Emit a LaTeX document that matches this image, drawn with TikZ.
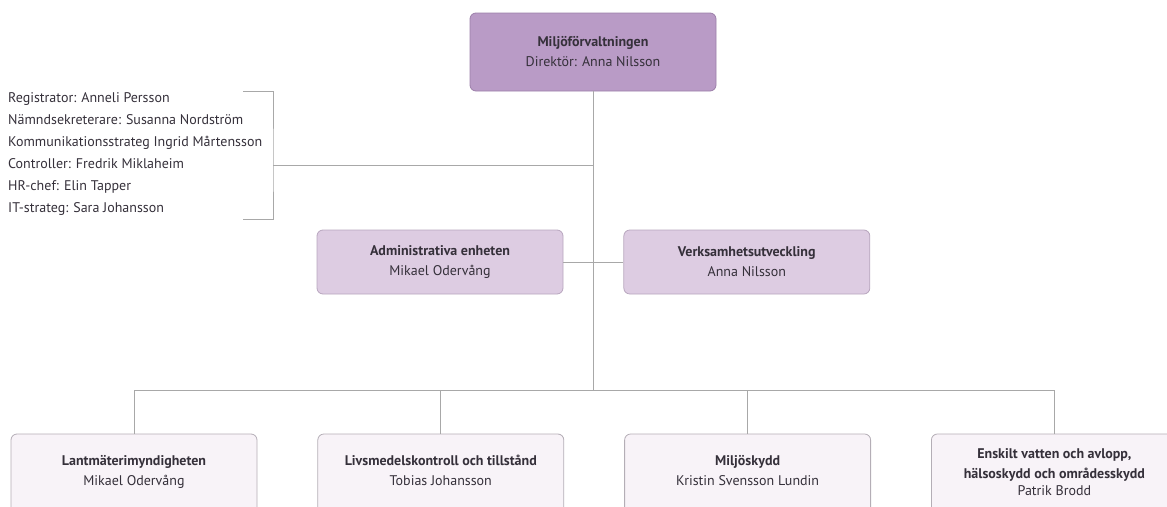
\documentclass[tikz,border=0pt]{standalone}
\usepackage{fontspec}
\setmainfont{PT Sans}
\usetikzlibrary{positioning}

\definecolor{topfill}{HTML}{B99BC6}
\definecolor{topdraw}{HTML}{9C7FA9}
\definecolor{midfill}{HTML}{DDCCE2}
\definecolor{middraw}{HTML}{B8A6BE}
\definecolor{subfill}{HTML}{F8F3F8}
\definecolor{subdraw}{HTML}{B4AEB6}
\definecolor{linegray}{HTML}{A8A8A8}
\definecolor{txt}{HTML}{35303A}

\begin{document}
\begin{tikzpicture}[x=1pt, y=-1pt, node distance=60pt, font=\fontsize{14}{20}\selectfont, text=txt]
    % Define styles
    \tikzstyle{unit} = [rectangle, rounded corners=6pt, minimum width=246pt, text centered, align=center, line width=0.8pt]
    \tikzstyle{topbox} = [unit, minimum height=78pt, draw=topdraw, fill=topfill]
    \tikzstyle{midbox} = [unit, minimum height=64pt, draw=middraw, fill=midfill]
    \tikzstyle{subbox} = [unit, minimum height=90pt, draw=subdraw, fill=subfill]
    \tikzstyle{link} = [draw=linegray, line width=0.8pt]

    \useasboundingbox (0,0) rectangle (1167,506);

    % Nodes
    \node [topbox] (forv) at (593,52) {\textbf{Miljöförvaltningen}\\Direktör: Anna Nilsson};
    \node [midbox] (admin) at (440,262) {\textbf{Administrativa enheten}\\Mikael Odervång};
    \node [midbox, right=of admin] (utv) {\textbf{Verksamhetsutveckling}\\Anna Nilsson};
    \node [subbox] (lant) at (134,479) {\textbf{Lantmäterimyndigheten}\\Mikael Odervång\\[-2pt]\mbox{}};
    \node [subbox, right=of lant] (livs) {\textbf{Livsmedelskontroll och tillstånd}\\Tobias Johansson\\[-2pt]\mbox{}};
    \node [subbox, right=of livs] (milj) {\textbf{Miljöskydd}\\Kristin Svensson Lundin\\[-2pt]\mbox{}};
    \node [subbox, right=of milj] (ensk) {\textbf{Enskilt vatten och avlopp,}\\\textbf{hälsoskydd och områdesskydd}\\[-3pt]Patrik Brodd\\[-6pt]\mbox{}};

    % Staff
    \node [anchor=north west, align=left, inner sep=0pt, font=\fontsize{14}{22}\selectfont] (staff) at (8,92)
        {Registrator: Anneli Persson\\
         Nämndsekreterare: Susanna Nordström\\
         Kommunikationsstrateg Ingrid Mårtensson\\
         Controller: Fredrik Miklaheim\\
         HR-chef: Elin Tapper\\
         IT-strateg: Sara Johansson};
    \coordinate (brtop) at (243,91);
    \coordinate (brmid) at (273,165);
    \coordinate (brbot) at (243,219);
    \coordinate (bar) at (593,390);

    % Lines
    \draw [link] (brtop) -| (brmid) |- (brbot);
    \draw [link] (brmid) -- (brmid -| forv.south);
    \draw [link] (forv.south) -- (bar);
    \draw [link] (admin.east) -- (utv.west);
    \draw [link] (lant.north |- bar) -- (ensk.north |- bar);
    \foreach \u in {lant, livs, milj, ensk}
        \draw [link] (\u.north |- bar) -- (\u.north);
\end{tikzpicture}
\end{document}
